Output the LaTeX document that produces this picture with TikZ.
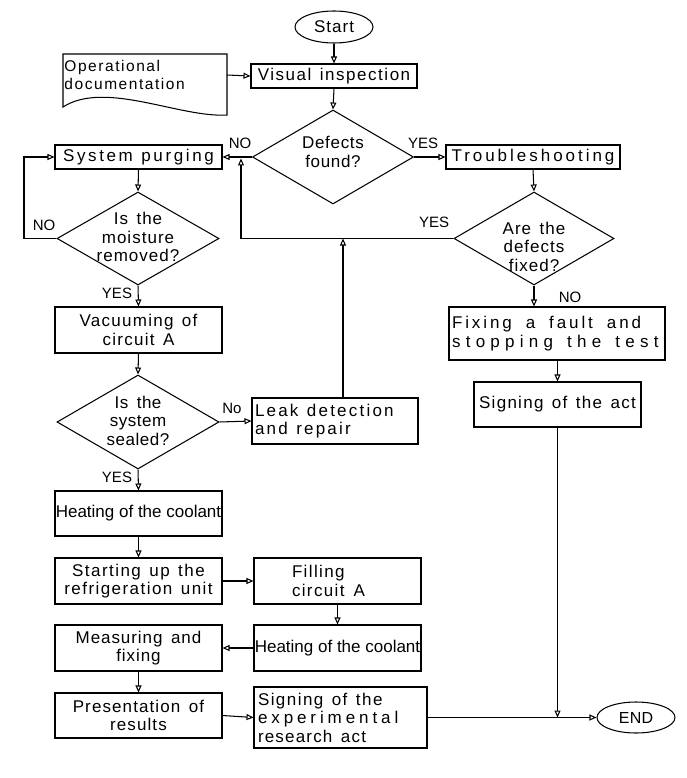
\documentclass[tikz,border=0pt]{standalone}
\usepackage{fontspec}
\setmainfont{Liberation Sans}
\usetikzlibrary{shapes.geometric,arrows.meta}
\newcommand\lsp[2][8.5pt]{\addfontfeatures{LetterSpace=#2}\spaceskip=#1 plus 1pt\relax}
\newcommand\wsp[1]{\spaceskip=#1 plus 1pt\relax}
\begin{document}
\begin{tikzpicture}[x=1pt,y=-1pt,
  line width=1.05pt,
  fz/.style 2 args={font={\fontsize{#1}{18.5}\selectfont\addfontfeatures{LetterSpace=#2}\spaceskip=8.5pt plus 1pt\relax}},
  every node/.style={font=\fontsize{17}{18.5}\selectfont},
  box/.style={draw, rectangle, inner sep=0pt, align=center},
  dia/.style={draw, diamond, inner sep=0pt},
  term/.style={draw, ellipse, inner sep=0pt},
  arr/.style={-{Triangle[open,length=7pt,width=6pt]}},
  lbl/.style={font=\fontsize{15}{16}\selectfont, inner sep=0pt},
]
\useasboundingbox (0,0) rectangle (686,778);

% terminals
\node[term, fz={17}{6}, minimum width=78pt, minimum height=32pt] (start) at (334,27) {Start};
\node[term, fz={16}{2}, minimum width=78pt, minimum height=31pt] (end) at (636,717.5) {END};

% document
\draw (63,54) -- (227,54) -- (227,115) .. controls (180,118) and (105,80) .. (63,107) -- cycle;
\node[fz={15.5}{10}, align=left, text width=162pt, inner sep=0pt, anchor=east] (doc) at (227,75) {Operational\\documentation};

% boxes
\node[box, fz={17}{9}, minimum width=166pt, minimum height=24pt] (vi) at (334,76) {Visual inspection};
\node[box, fz={17}{15.5}, minimum width=167pt, minimum height=24pt] (purge) at (138.5,157) {System purging};
\node[box, fz={17}{17.5}, minimum width=174pt, minimum height=24pt] (trouble) at (533,157) {Troubleshooting};
\node[box, fz={17}{7.5}, minimum width=167pt, minimum height=46pt] (vac) at (138.5,330) {Vacuuming of\\circuit A};
\node[box, fz={17}{13}, minimum width=166pt, minimum height=46pt, align=left, text width=160pt, inner xsep=3pt] (leak) at (335,421) {\wsp{8.5pt}Leak detection\\and repair};
\node[box, font=\fontsize{17}{18.5}\selectfont, minimum width=216pt, minimum height=53pt, align=left, text width=210pt, inner xsep=3pt] (fix) at (557,333.5) {\lsp[14pt]{17}Fixing a fault and\\\lsp[14pt]{31}stopping the test};
\node[box, fz={17}{7.5}, minimum width=167pt, minimum height=45pt] (signact) at (557.5,404.5) {Signing of the act};
\node[box, font=\fontsize{17}{18.5}\selectfont, minimum width=167pt, minimum height=45pt] (heat1) at (138.5,513.5) {Heating of the coolant};
\node[box, fz={17}{8.5}, minimum width=167pt, minimum height=46pt] (startup) at (138.5,581) {Starting up the\\refrigeration unit};
\node[box, fz={17}{8}, minimum width=167pt, minimum height=46pt, align=left, text width=91pt, inner xsep=38pt] (fill) at (337.5,581) {\wsp{9pt}Filling\\circuit A};
\node[box, font=\fontsize{17}{18.5}\selectfont, minimum width=167pt, minimum height=46pt] (heat2) at (337.5,648) {Heating of the coolant};
\node[box, fz={17}{5.5}, minimum width=167pt, minimum height=46pt] (meas) at (138.5,648) {Measuring and\\fixing};
\node[box, fz={17}{6.5}, minimum width=167pt, minimum height=45pt] (pres) at (138.5,715.5) {Presentation of\\results};
\node[box, font=\fontsize{17}{18.5}\selectfont, minimum width=173pt, minimum height=61pt, align=left, text width=165pt, inner xsep=4pt] (signexp) at (340.5,717.5) {\lsp{8.5}Signing of the\\\lsp{23}experimental\\\lsp{7}research act};

% decisions
\node[dia, minimum width=161pt, minimum height=94pt, label={[fz={17}{4}, align=center, yshift=5pt]center:Defects\\found?}] (defects) at (333,157) {};
\node[dia, minimum width=162pt, minimum height=93pt, label={[fz={17}{6}, align=center, yshift=1.5pt]center:Is the\\moisture\\removed?}] (moist) at (138,238.5) {};
\node[dia, minimum width=160pt, minimum height=93pt, label={[fz={17}{6}, align=center, yshift=-8pt]center:Are the\\defects\\fixed?}] (fixedq) at (534,238.5) {};
\node[dia, minimum width=162pt, minimum height=94pt, label={[fz={17}{3}, align=center, yshift=1.5pt]center:Is the\\system\\sealed?}] (sealed) at (138,422) {};

% labels
\node[lbl] (l1) at (240,143) {NO};
\node[lbl] (l2) at (423,143) {YES};
\node[lbl] (l3) at (44,225) {NO};
\node[lbl] (l4) at (117,293) {YES};
\node[lbl] (l5) at (232,408) {No};
\node[lbl] (l6) at (117,477) {YES};
\node[lbl] (l7) at (434,222) {YES};
\node[lbl] (l8) at (570,297) {NO};

% coordinates
\coordinate (lp) at (24,238.5);
\coordinate (ret) at (241,238.5);
\coordinate (rettop) at (241,158.5);
\coordinate (lk) at (343,238.5);

% connectors
\draw[arr] (start.south) -- (vi.north);
\draw[arr] (doc.east) -- (vi.west);
\draw[arr] (vi.south) -- (defects.north);
\draw[arr] (defects.west) -- (purge.east);
\draw[arr] (defects.east) -- (trouble.west);
\draw[arr] (purge.south) -- (moist.north);
\draw[arr] (moist.west) -- (lp) |- (purge.west);
\draw[arr] (moist.south) -- (vac.north);
\draw[arr] (vac.south) -- (sealed.north);
\draw[arr] (sealed.east) -- (leak.west);
\draw[arr] (sealed.south) -- (heat1.north);
\draw[arr] (heat1.south) -- (startup.north);
\draw[arr] (startup.east) -- (fill.west);
\draw[arr] (fill.south) -- (heat2.north);
\draw[arr] (heat2.west) -- (meas.east);
\draw[arr] (meas.south) -- (pres.north);
\draw[arr] (pres.east) -- (signexp.west);
\draw[arr] (signexp.east) -- (end.west);
\draw[arr] (trouble.south) -- (fixedq.north);
\draw[arr] (fixedq.west) -- (ret) -- (rettop);
\draw[arr] (leak.north -| lk) -- (lk);
\draw[arr] (fixedq.south) -- (fixedq.south |- fix.north);
\draw[arr] (fix.south -| signact.north) -- (signact.north);
\coordinate (jn) at (signact.south |- end.west);
\draw[arr] (signact.south) -- (jn);
\end{tikzpicture}
\end{document}
